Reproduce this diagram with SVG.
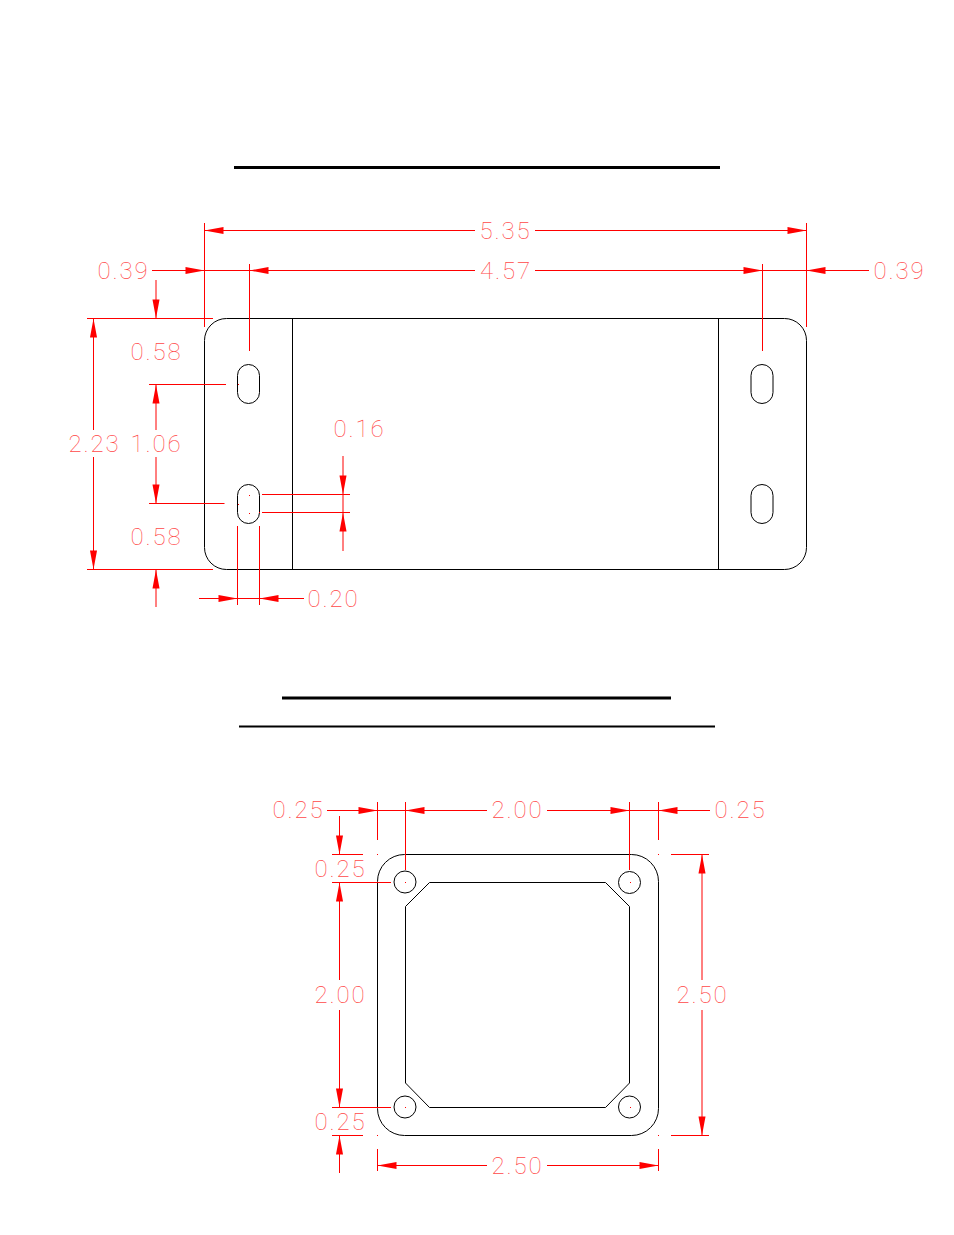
<svg xmlns="http://www.w3.org/2000/svg" width="954" height="1235" viewBox="0 0 954 1235">
<style>
.o{fill:none;stroke:#000;stroke-width:1}
.h{stroke:#000;fill:none}
.d{stroke:#f00;stroke-width:1;fill:none}
.a{marker-end:url(#ah)}
.t{font-family:Roboto,"Liberation Sans",sans-serif;font-weight:100;font-size:24px;letter-spacing:1.9px;fill:#ff4848;text-anchor:middle}
.p{fill:#f00}
</style>
<defs>
<marker id="ah" markerUnits="userSpaceOnUse" markerWidth="20" markerHeight="8" refX="19" refY="3.5" orient="auto" overflow="visible"><polygon points="0,0 19,3.5 0,7" fill="#f00"/></marker>
</defs>
<rect width="954" height="1235" fill="#fff"/>
<g id="headings">
<line class="h" x1="234" y1="167.5" x2="720" y2="167.5" stroke-width="3"/>
<line class="h" x1="282" y1="698" x2="671" y2="698" stroke-width="3"/>
<line class="h" x1="239" y1="726.5" x2="715" y2="726.5" stroke-width="2"/>
</g>
<g id="plate">
<rect class="o" x="204.5" y="318.5" width="602" height="251" rx="22" ry="22"/>
<path class="o" d="M292.5 318.5V569.5M718.5 318.5V569.5"/>
<rect class="o" x="237.5" y="364.5" width="22" height="39" rx="11" ry="11"/>
<rect class="o" x="237.5" y="484.5" width="22" height="39" rx="11" ry="11"/>
<rect class="o" x="751" y="364.5" width="22" height="39" rx="11" ry="11"/>
<rect class="o" x="751" y="484.5" width="22" height="39" rx="11" ry="11"/>
</g>
<g id="flange">
<rect class="o" x="377.5" y="854.5" width="281" height="281" rx="27" ry="27"/>
<path class="o" d="M429.5 882.5H605.5L629.5 906.5V1083L605.5 1107.5H429.5L405.5 1083V906.5Z"/>
<circle class="o" cx="405" cy="882" r="11"/>
<circle class="o" cx="629.5" cy="882.5" r="11"/>
<circle class="o" cx="405" cy="1107" r="11"/>
<circle class="o" cx="629.5" cy="1107" r="11"/>
</g>
<g id="connectors">
<path class="d" d="M204.5 223V327M806.5 223V327M249.5 264V351M762.5 264V351M87 318.5H213M87 569.5H213M149 384.5H226M149 503.5H224.5M262 494.5H350M262 512.5H350M237.5 526V605M259.5 526V605"/>
<line class="d a" x1="475" y1="230.5" x2="204.5" y2="230.5"/>
<line class="d a" x1="535" y1="230.5" x2="806.5" y2="230.5"/>
<line class="d a" x1="152" y1="270.5" x2="204.5" y2="270.5"/>
<line class="d a" x1="475" y1="270.5" x2="249.5" y2="270.5"/>
<line class="d a" x1="535" y1="270.5" x2="762.5" y2="270.5"/>
<line class="d a" x1="869" y1="270.5" x2="806.5" y2="270.5"/>
<line class="d" x1="204.5" y1="270.5" x2="249.5" y2="270.5"/>
<line class="d" x1="762.5" y1="270.5" x2="806.5" y2="270.5"/>
<line class="d a" x1="93.5" y1="430" x2="93.5" y2="318.5"/>
<line class="d a" x1="93.5" y1="457" x2="93.5" y2="569.5"/>
<line class="d a" x1="156" y1="280" x2="156" y2="318.5"/>
<line class="d a" x1="156" y1="607" x2="156" y2="569.5"/>
<line class="d a" x1="156" y1="430" x2="156" y2="384.5"/>
<line class="d a" x1="156" y1="457" x2="156" y2="503.5"/>
<line class="d a" x1="343" y1="456" x2="343" y2="494.5"/>
<line class="d a" x1="343" y1="551" x2="343" y2="512.5"/>
<line class="d" x1="343" y1="494.5" x2="343" y2="512.5"/>
<line class="d a" x1="199" y1="598.5" x2="237.5" y2="598.5"/>
<line class="d a" x1="304" y1="598.5" x2="259.5" y2="598.5"/>
<line class="d" x1="237.5" y1="598.5" x2="259.5" y2="598.5"/>
<path class="d" d="M377.5 802V840M405.5 802V870M629.5 802V870M658.5 802V840M332 854.5H363M332 882.5H391M332 1107.5H391M332 1135.5H363M671 854.5H709M671 1135.5H709M377.5 1149V1171M658.5 1149V1171"/>
<line class="d a" x1="327" y1="810.5" x2="377.5" y2="810.5"/>
<line class="d" x1="377.5" y1="810.5" x2="405.5" y2="810.5"/>
<line class="d a" x1="487" y1="810.5" x2="405.5" y2="810.5"/>
<line class="d a" x1="547" y1="810.5" x2="629.5" y2="810.5"/>
<line class="d" x1="629.5" y1="810.5" x2="658.5" y2="810.5"/>
<line class="d a" x1="710" y1="810.5" x2="658.5" y2="810.5"/>
<line class="d a" x1="339.5" y1="816" x2="339.5" y2="854.5"/>
<line class="d a" x1="339.5" y1="980" x2="339.5" y2="882.5"/>
<line class="d a" x1="339.5" y1="1010" x2="339.5" y2="1107.5"/>
<line class="d a" x1="339.5" y1="1173" x2="339.5" y2="1135.5"/>
<line class="d a" x1="702" y1="980" x2="702" y2="854.5"/>
<line class="d a" x1="702" y1="1010" x2="702" y2="1135.5"/>
<line class="d a" x1="487" y1="1165.5" x2="377.5" y2="1165.5"/>
<line class="d a" x1="547" y1="1165.5" x2="658.5" y2="1165.5"/>
<path class="p" d="M249 495h1v1h-1zM249 513h1v1h-1zM238 504h1v1h-1zM238 384h1v1h-1zM259 512h1v1h-1zM405 882h1v1h-1zM630 882h1v1h-1zM405 1107h1v1h-1zM630 1107h1v1h-1zM377 854h1v1h-1zM658 854h1v1h-1zM377 1135h1v1h-1zM658 1135h1v1h-1z"/>
</g>
<g id="labels">
<text class="t" x="505.5" y="239">5.35</text>
<text class="t" x="506" y="279">4.57</text>
<text class="t" x="123.5" y="279">0.39</text>
<text class="t" x="899.5" y="279">0.39</text>
<text class="t" x="156.5" y="360">0.58</text>
<text class="t" x="94.5" y="452">2.23</text>
<text class="t" x="156.5" y="452">1.06</text>
<text class="t" x="359.5" y="437">0.16</text>
<text class="t" x="156.5" y="545">0.58</text>
<text class="t" x="333.5" y="607">0.20</text>
<text class="t" x="298.5" y="818">0.25</text>
<text class="t" x="517.5" y="818">2.00</text>
<text class="t" x="740.5" y="818">0.25</text>
<text class="t" x="340.5" y="877">0.25</text>
<text class="t" x="340.5" y="1003">2.00</text>
<text class="t" x="702.5" y="1003">2.50</text>
<text class="t" x="340.5" y="1130">0.25</text>
<text class="t" x="517.5" y="1174">2.50</text>
</g>
</svg>
